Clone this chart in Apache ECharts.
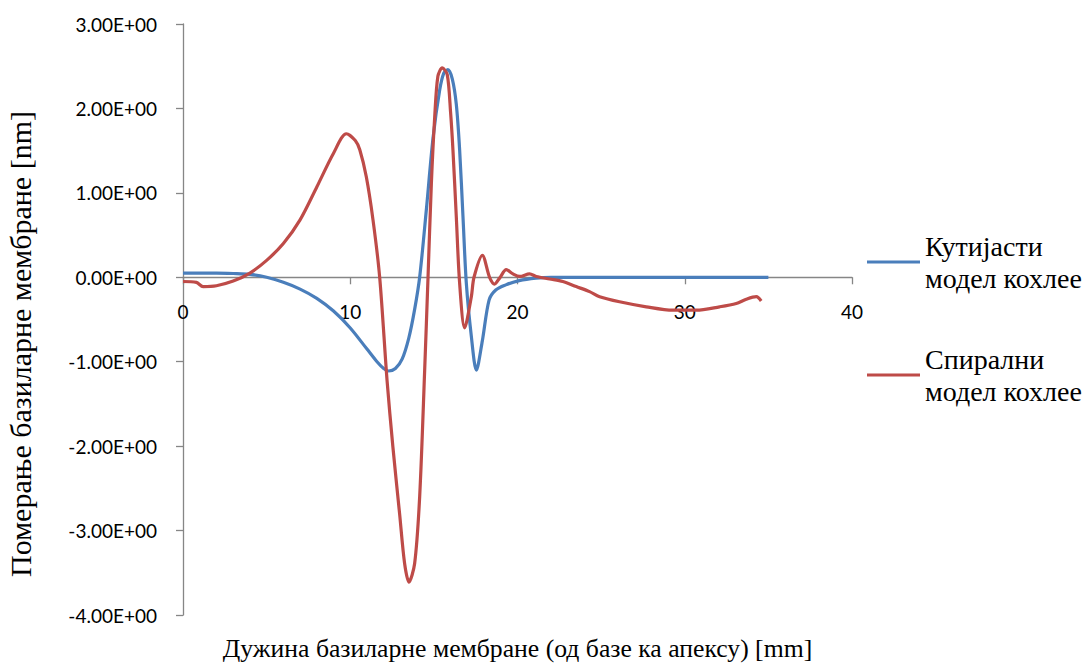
<!DOCTYPE html>
<html>
<head>
<meta charset="utf-8">
<script src="https://cdn.jsdelivr.net/npm/echarts@6/dist/echarts.min.js"></script>
<style>
  html, body { margin: 0; padding: 0; background: #ffffff; }
  #chart { width: 1088px; height: 665px; }
</style>
</head>
<body>
<div id="chart"></div>
<script>
// Position along the basilar membrane [mm] and displacement [nm]
const xBox = [0, 1, 2, 3, 4, 5, 6, 7, 8, 9, 10, 11, 11.6, 12.0, 12.3, 12.7, 13.1, 13.5, 13.85, 14.15, 14.55, 14.95, 15.35, 15.6, 15.84, 16.1, 16.34, 16.54, 16.74, 16.94, 17.24, 17.54, 17.9, 18.3, 18.7, 19.3, 20.1, 21.1, 22, 25, 30, 35];
const yBox = [0.05, 0.05, 0.05, 0.045, 0.035, 0.0, -0.06, -0.14, -0.25, -0.40, -0.60, -0.85, -1.00, -1.08, -1.11, -1.08, -0.97, -0.72, -0.38, 0.0, 0.80, 1.65, 2.22, 2.42, 2.46, 2.35, 2.05, 1.51, 0.72, -0.07, -0.70, -1.10, -0.75, -0.27, -0.15, -0.09, -0.04, -0.01, 0, 0, 0, 0];

const xSpiral = [0, 0.8, 1.2, 2.0, 3.0, 4.0, 5.0, 6.0, 7.0, 8.0, 9.0, 9.77, 10.3, 10.57, 10.96, 11.36, 11.76, 12.2, 12.55, 12.95, 13.25, 13.51, 13.85, 14.15, 14.45, 14.65, 14.85, 15.05, 15.24, 15.5, 15.8, 16.0, 16.14, 16.34, 16.54, 16.84, 17.24, 17.4, 17.9, 18.33, 18.63, 18.93, 19.33, 19.73, 20.13, 20.72, 21.12, 21.92, 22.71, 23.51, 24.31, 24.91, 26.1, 27.7, 29.29, 30.69, 32.08, 33.08, 33.68, 34.28, 34.57];
const ySpiral = [-0.05, -0.06, -0.11, -0.10, -0.045, 0.05, 0.2, 0.40, 0.68, 1.07, 1.47, 1.70, 1.62, 1.51, 1.19, 0.68, 0.0, -1.22, -2.01, -2.80, -3.39, -3.61, -3.39, -2.60, -1.10, 0.0, 1.11, 1.90, 2.38, 2.48, 2.40, 1.95, 1.51, 0.72, -0.07, -0.60, -0.23, 0.0, 0.26, 0.0, -0.08, -0.01, 0.09, 0.04, 0.01, 0.04, 0.01, -0.02, -0.05, -0.11, -0.17, -0.23, -0.29, -0.35, -0.39, -0.39, -0.35, -0.31, -0.26, -0.23, -0.28];

const seriesNames = ['Кутијасти\nмодел кохлее', 'Спирални\nмодел кохлее'];
const xTitle = 'Дужина базиларне мембране (од базе ка апексу) [mm]';
const yTitle = 'Померање базиларне мембране [nm]';

const yMin = -4, yMax = 3;
const gridTop = 24, gridBottom = 50, chartHeight = 665;

const pairs = (xs, ys) => xs.map((x, i) => [x, ys[i]]);

const axisGray = '#868686';
const serif = '"Liberation Serif", "Times New Roman", serif';
const sans = 'Lato, "Open Sans", sans-serif';

// The horizontal axis runs along y = 0; shift it up from the bottom of the grid.
const plotHeight = chartHeight - gridTop - gridBottom;
const zeroShift = plotHeight * (0 - yMin) / (yMax - yMin);

const chart = echarts.init(document.getElementById('chart'), null, { renderer: 'svg' });
const legendLine = 32;

chart.setOption({
  backgroundColor: '#ffffff',
  animation: false,
  grid: { left: 183, right: 236, top: gridTop, bottom: gridBottom, containLabel: false, outerBoundsMode: 'none' },
  legend: {
    orient: 'vertical',
    left: 867,
    top: 262 - legendLine * 1.5,
    padding: 0,
    itemGap: 113 - legendLine * 3,
    itemWidth: 53,
    itemHeight: 3,
    icon: 'rect',
    textStyle: {
      fontFamily: serif,
      fontSize: 28,
      color: '#000',
      lineHeight: legendLine,
      padding: [legendLine, 0, 0, 0]
    },
    data: seriesNames
  },
  xAxis: {
    type: 'value',
    min: 0, max: 40, interval: 10,
    offset: -zeroShift,
    name: xTitle,
    nameLocation: 'middle',
    nameGap: 358,
    nameMoveOverlap: false,
    nameTextStyle: { fontFamily: serif, fontSize: 25.7, color: '#000' },
    axisLine: { onZero: false, lineStyle: { color: axisGray, width: 1.3 } },
    axisTick: { show: true, length: 7, lineStyle: { color: axisGray, width: 1.3 } },
    axisLabel: { margin: 25, fontFamily: sans, fontSize: 19, color: '#000' },
    splitLine: { show: false }
  },
  yAxis: {
    type: 'value',
    min: yMin, max: yMax, interval: 1,
    name: yTitle,
    nameLocation: 'middle',
    nameGap: 148,
    nameMoveOverlap: false,
    nameTextStyle: { fontFamily: serif, fontSize: 30, color: '#000', padding: [0, 49, 0, 0] },
    axisLine: { show: true, lineStyle: { color: axisGray, width: 1.3 } },
    axisTick: { show: true, length: 7, lineStyle: { color: axisGray, width: 1.3 } },
    axisLabel: {
      margin: 26, fontFamily: sans, fontSize: 19, color: '#000',
      formatter: v => v.toFixed(2) + 'E+00'
    },
    splitLine: { show: false }
  },
  series: [
    {
      name: seriesNames[0], type: 'line', data: pairs(xBox, yBox),
      symbol: 'none', smooth: 0.3,
      lineStyle: { color: '#4a7ebb', width: 3.2 }, itemStyle: { color: '#4a7ebb' }
    },
    {
      name: seriesNames[1], type: 'line', data: pairs(xSpiral, ySpiral),
      symbol: 'none', smooth: 0.3,
      lineStyle: { color: '#be4b48', width: 3.2 }, itemStyle: { color: '#be4b48' }
    }
  ]
});
</script>
</body>
</html>
